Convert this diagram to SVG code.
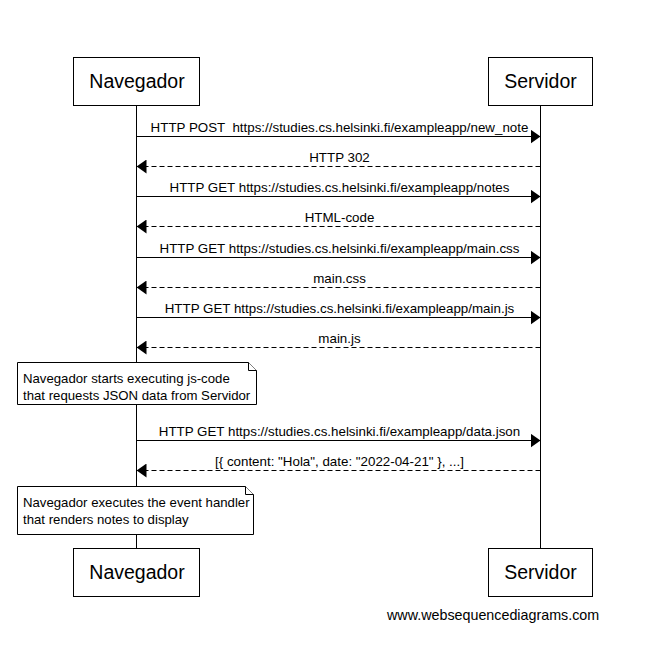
<svg xmlns="http://www.w3.org/2000/svg" width="654" height="668" viewBox="0 0 654 668">
<defs>
<style>
.box{fill:#fff;stroke:#000;stroke-width:1}
.life{stroke:#000;stroke-width:1}
.pt{font-family:"Liberation Sans",Arial,sans-serif;font-size:19.5px;fill:#000;text-anchor:middle}
.lbl{font-family:"Liberation Sans",Arial,sans-serif;font-size:13.35px;fill:#000;text-anchor:middle}
.nt{font-family:"Liberation Sans",Arial,sans-serif;font-size:13.2px;fill:#000}
.msg{stroke:#000;stroke-width:1;fill:none}
.ret{stroke:#000;stroke-width:1;fill:none;stroke-dasharray:5,3}
</style>
<marker id="ah" markerWidth="10" markerHeight="14" refX="10" refY="7" orient="auto" markerUnits="userSpaceOnUse">
<path d="M0,0 L10,7 L0,14 Z" fill="#000"/>
</marker>
</defs>
<rect width="654" height="668" fill="#fff"/>
<g id="lifelines">
<line class="life" x1="136.5" y1="105" x2="136.5" y2="548"/>
<line class="life" x1="540.5" y1="105" x2="540.5" y2="548"/>
</g>
<g id="navegador-top"><rect class="box" x="73.5" y="57.5" width="126" height="48"/><text class="pt" x="137" y="88">Navegador</text></g>
<g id="servidor-top"><rect class="box" x="488.5" y="57.5" width="104" height="48"/><text class="pt" x="540.5" y="88">Servidor</text></g>
<g id="navegador-bottom"><rect class="box" x="73.5" y="548.5" width="126" height="48"/><text class="pt" x="137" y="579">Navegador</text></g>
<g id="servidor-bottom"><rect class="box" x="488.5" y="548.5" width="104" height="48"/><text class="pt" x="540.5" y="579">Servidor</text></g>
<g id="connectors">
<line class="msg" x1="136.5" y1="136.5" x2="540.5" y2="136.5" marker-end="url(#ah)"/>
<line class="ret" x1="540.5" y1="166.5" x2="136.5" y2="166.5" marker-end="url(#ah)"/>
<line class="msg" x1="136.5" y1="196.5" x2="540.5" y2="196.5" marker-end="url(#ah)"/>
<line class="ret" x1="540.5" y1="226.5" x2="136.5" y2="226.5" marker-end="url(#ah)"/>
<line class="msg" x1="136.5" y1="257.5" x2="540.5" y2="257.5" marker-end="url(#ah)"/>
<line class="ret" x1="540.5" y1="287.5" x2="136.5" y2="287.5" marker-end="url(#ah)"/>
<line class="msg" x1="136.5" y1="317.5" x2="540.5" y2="317.5" marker-end="url(#ah)"/>
<line class="ret" x1="540.5" y1="347.5" x2="136.5" y2="347.5" marker-end="url(#ah)"/>
<line class="msg" x1="136.5" y1="440.5" x2="540.5" y2="440.5" marker-end="url(#ah)"/>
<line class="ret" x1="540.5" y1="470.5" x2="136.5" y2="470.5" marker-end="url(#ah)"/>
</g>
<g id="labels">
<text class="lbl" x="339.5" y="132" xml:space="preserve">HTTP POST  https://studies.cs.helsinki.fi/exampleapp/new_note</text>
<text class="lbl" x="339.5" y="162">HTTP 302</text>
<text class="lbl" x="339.5" y="192">HTTP GET https://studies.cs.helsinki.fi/exampleapp/notes</text>
<text class="lbl" x="339.5" y="222">HTML-code</text>
<text class="lbl" x="339.5" y="253">HTTP GET https://studies.cs.helsinki.fi/exampleapp/main.css</text>
<text class="lbl" x="339.5" y="283">main.css</text>
<text class="lbl" x="339.5" y="313">HTTP GET https://studies.cs.helsinki.fi/exampleapp/main.js</text>
<text class="lbl" x="339.5" y="343">main.js</text>
<text class="lbl" x="339.5" y="436">HTTP GET https://studies.cs.helsinki.fi/exampleapp/data.json</text>
<text class="lbl" x="339.5" y="466">[{ content: "Hola", date: "2022-04-21" }, ...]</text>
</g>
<g id="note1">
<path class="box" d="M17.5,362.5 H248.5 L256.5,370.5 V404.5 H17.5 Z"/>
<path class="box" d="M248.5,362.5 V370.5 H256.5" fill="none"/>
<text class="nt" x="23" y="383">Navegador starts executing js-code</text>
<text class="nt" x="23" y="399.5">that requests JSON data from Servidor</text>
</g>
<g id="note2">
<path class="box" d="M17.5,486.5 H245.5 L253.5,494.5 V534.5 H17.5 Z"/>
<path class="box" d="M245.5,486.5 V494.5 H253.5" fill="none"/>
<text class="nt" x="23" y="507">Navegador executes the event handler</text>
<text class="nt" x="23" y="523.5">that renders notes to display</text>
</g>
<text class="nt" x="387" y="620" style="font-size:14.3px">www.websequencediagrams.com</text>
</svg>
